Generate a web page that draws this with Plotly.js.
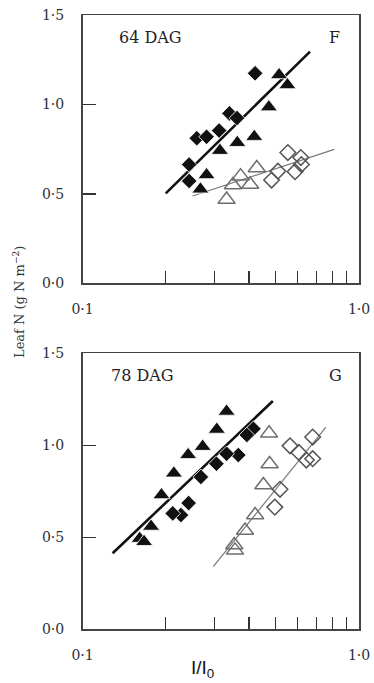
<!DOCTYPE html>
<html>
<head>
<meta charset="utf-8">
<script src="https://cdn.plot.ly/plotly-3.0.1.min.js"></script>
<style>html,body{margin:0;padding:0;background:#fff;}#chart{width:374px;height:683px;}</style>
</head>
<body>
<div id="chart"></div>
<script>
// ---- Panel F (64 DAG) ----
var topFilledDiamondX = [0.421, 0.340, 0.362, 0.259, 0.281, 0.312, 0.243, 0.243];
var topFilledDiamondY = [1.174, 0.950, 0.924, 0.811, 0.819, 0.854, 0.664, 0.572];
var topFilledTriX = [0.514, 0.551, 0.472, 0.418, 0.363, 0.314, 0.281, 0.267];
var topFilledTriY = [1.165, 1.109, 0.985, 0.820, 0.786, 0.742, 0.606, 0.526];
var topOpenTriX = [0.332, 0.350, 0.373, 0.404, 0.427];
var topOpenTriY = [0.468, 0.550, 0.599, 0.552, 0.645];
var topOpenDiamondX = [0.483, 0.509, 0.553, 0.587, 0.616, 0.619];
var topOpenDiamondY = [0.577, 0.627, 0.731, 0.624, 0.703, 0.664];
var topFitFilledX = [0.200, 0.665];
var topFitFilledY = [0.503, 1.295];
var topFitOpenX = [0.250, 0.814];
var topFitOpenY = [0.488, 0.749];

// ---- Panel G (78 DAG) ----
var botFilledTriX = [0.332, 0.306, 0.272, 0.241, 0.214, 0.193, 0.177, 0.161, 0.167];
var botFilledTriY = [1.184, 1.086, 0.993, 0.948, 0.848, 0.730, 0.559, 0.493, 0.476];
var botFilledDiamondX = [0.415, 0.393, 0.366, 0.332, 0.305, 0.268, 0.242, 0.227, 0.212];
var botFilledDiamondY = [1.090, 1.056, 0.947, 0.954, 0.900, 0.828, 0.686, 0.621, 0.630];
var botOpenTriX = [0.473, 0.475, 0.451, 0.421, 0.387, 0.354, 0.356];
var botOpenTriY = [1.065, 0.898, 0.784, 0.621, 0.537, 0.458, 0.429];
var botOpenDiamondX = [0.563, 0.606, 0.680, 0.645, 0.680, 0.518, 0.496];
var botOpenDiamondY = [0.997, 0.961, 1.045, 0.920, 0.927, 0.761, 0.664];
var botFitFilledX = [0.1285, 0.488];
var botFitFilledY = [0.413, 1.241];
var botFitOpenX = [0.297, 0.758];
var botFitOpenY = [0.340, 1.098];

// ---- Axis ticks ----
var xTickVals = [0.1, 1.0];
var xTickText = ['0·1', '1·0'];
var xMinorTickVals = [0.2, 0.3, 0.4, 0.5, 0.6, 0.7, 0.8, 0.9];
var yTickVals = [0, 0.5, 1.0, 1.5];
var yTickText = ['0·0', '0·5', '1·0', '1·5'];

var serif = 'DejaVu Serif, serif';
var black = '#111111';
var grayOpenTri = '#6e6e6e';
var grayOpenDia = '#555555';
var grayLine = '#7a7a7a';

function lineTrace(x, y, color, width, xa, ya) {
  return {x: x, y: y, mode: 'lines', type: 'scatter', xaxis: xa, yaxis: ya,
    line: {color: color, width: width}, hoverinfo: 'skip', showlegend: false};
}
function markerTrace(x, y, symbol, color, size, lw, lc, xa, ya) {
  return {x: x, y: y, mode: 'markers', type: 'scatter', xaxis: xa, yaxis: ya,
    marker: {symbol: symbol, color: color, size: size, line: {width: lw, color: lc}},
    showlegend: false};
}

var data = [
  lineTrace(topFitOpenX, topFitOpenY, grayLine, 1.2, 'x', 'y'),
  lineTrace(topFitFilledX, topFitFilledY, black, 2.6, 'x', 'y'),
  markerTrace(topOpenTriX, topOpenTriY, 'triangle-up-open', grayOpenTri, 15, 1.5, grayOpenTri, 'x', 'y'),
  markerTrace(topOpenDiamondX, topOpenDiamondY, 'diamond-open', grayOpenDia, 12, 1.5, grayOpenDia, 'x', 'y'),
  markerTrace(topFilledDiamondX, topFilledDiamondY, 'diamond', black, 12, 0.8, '#ffffff', 'x', 'y'),
  markerTrace(topFilledTriX, topFilledTriY, 'triangle-up', black, 15, 0.8, '#ffffff', 'x', 'y'),

  lineTrace(botFitOpenX, botFitOpenY, grayLine, 1.2, 'x2', 'y2'),
  lineTrace(botFitFilledX, botFitFilledY, black, 2.6, 'x2', 'y2'),
  markerTrace(botOpenTriX, botOpenTriY, 'triangle-up-open', grayOpenTri, 15, 1.5, grayOpenTri, 'x2', 'y2'),
  markerTrace(botOpenDiamondX, botOpenDiamondY, 'diamond-open', grayOpenDia, 12, 1.5, grayOpenDia, 'x2', 'y2'),
  markerTrace(botFilledDiamondX, botFilledDiamondY, 'diamond', black, 12, 0.8, '#ffffff', 'x2', 'y2'),
  markerTrace(botFilledTriX, botFilledTriY, 'triangle-up', black, 15, 0.8, '#ffffff', 'x2', 'y2')
];

var W = 374, H = 683;
var xDom = [82.5 / W, 359 / W];
var yDomTop = [1 - 283.3 / H, 1 - 15 / H];
var yDomBot = [1 - 629.3 / H, 1 - 353.3 / H];

function xAxis(anchor) {
  return {type: 'log', range: [-1, 0], domain: xDom, anchor: anchor,
    tickmode: 'array', tickvals: xTickVals, ticktext: xTickText, tickangle: 0,
    ticks: 'inside', ticklen: 12, tickwidth: 1.3, tickcolor: '#333',
    minor: {tickmode: 'array', tickvals: xMinorTickVals, ticks: 'inside', ticklen: 12,
      tickwidth: 1.3, tickcolor: '#333', showgrid: false},
    showline: true, linecolor: '#444', linewidth: 1.5, mirror: true,
    showgrid: false, zeroline: false, ticklabelstandoff: 12,
    tickfont: {family: serif, size: 14, color: '#2b2f38'}, fixedrange: true};
}
function yAxis(anchor, dom) {
  return {range: [0, 1.5], domain: dom, anchor: anchor,
    tickmode: 'array', tickvals: yTickVals, ticktext: yTickText, ticks: 'inside', ticklen: 13, tickwidth: 1.3,
    tickcolor: '#333', showline: true, linecolor: '#444', linewidth: 1.5, mirror: true,
    showgrid: false, zeroline: false, ticklabelstandoff: 14,
    tickfont: {family: serif, size: 14, color: '#2b2f38'}, fixedrange: true};
}

var layout = {
  width: W, height: H,
  margin: {l: 0, r: 0, t: 0, b: 0},
  paper_bgcolor: '#ffffff', plot_bgcolor: '#ffffff',
  showlegend: false,
  xaxis: xAxis('y'), yaxis: yAxis('x', yDomTop),
  xaxis2: xAxis('y2'), yaxis2: yAxis('x2', yDomBot),
  annotations: [
    {text: '64 DAG', xref: 'paper', yref: 'paper', x: 150 / W, y: 1 - 37 / H, showarrow: false,
      font: {family: serif, size: 16, color: '#222'}, xanchor: 'center', yanchor: 'middle'},
    {text: 'F', xref: 'paper', yref: 'paper', x: 334 / W, y: 1 - 37 / H, showarrow: false,
      font: {family: serif, size: 16, color: '#222'}, xanchor: 'center', yanchor: 'middle'},
    {text: '78 DAG', xref: 'paper', yref: 'paper', x: 142 / W, y: 1 - 375 / H, showarrow: false,
      font: {family: serif, size: 16, color: '#222'}, xanchor: 'center', yanchor: 'middle'},
    {text: 'G', xref: 'paper', yref: 'paper', x: 335 / W, y: 1 - 375 / H, showarrow: false,
      font: {family: serif, size: 16, color: '#222'}, xanchor: 'center', yanchor: 'middle'},
    {text: 'Leaf N (g N m<sup>−2</sup>)', xref: 'paper', yref: 'paper', x: 19 / W, y: 1 - 302 / H,
      showarrow: false, textangle: -90, font: {family: serif, size: 13, color: '#333'},
      xanchor: 'center', yanchor: 'middle'},
    {text: 'I/I<sub>0</sub>', xref: 'paper', yref: 'paper', x: 202 / W, y: 1 / H,
      showarrow: false, font: {family: 'Liberation Sans', size: 19, color: '#111'},
      xanchor: 'center', yanchor: 'bottom', borderpad: 0}
  ]
};

Plotly.newPlot('chart', data, layout, {displayModeBar: false, staticPlot: true});
</script>
</body>
</html>
